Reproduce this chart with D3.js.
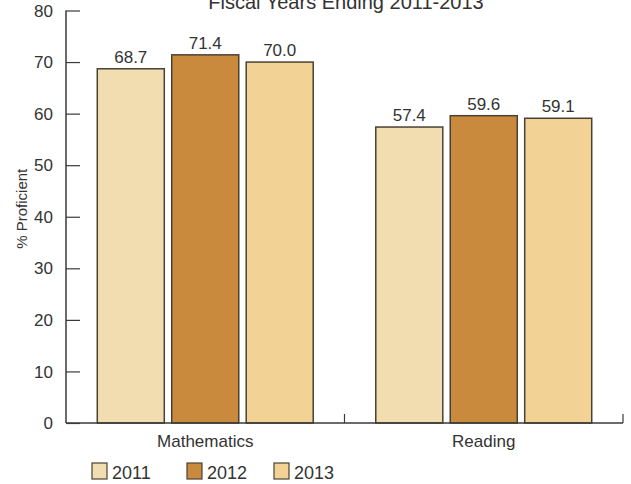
<!DOCTYPE html>
<html>
<head>
<meta charset="utf-8">
<script src="https://cdn.jsdelivr.net/npm/d3@7"></script>
<style>
  html, body { margin: 0; padding: 0; background: #ffffff; }
  svg { display: block; font-family: "Liberation Sans", Arial, sans-serif; }
</style>
</head>
<body>
<svg id="chart" width="631" height="484"></svg>
<script>
const categories = ["Mathematics", "Reading"];
const years = ["2011", "2012", "2013"];
const values2011 = [68.7, 57.4];
const values2012 = [71.4, 59.6];
const values2013 = [70.0, 59.1];
const yTicks = [0, 10, 20, 30, 40, 50, 60, 70, 80];
const title = "Fiscal Years Ending 2011-2013";
const yLabel = "% Proficient";
const colors = ["#f1ddb0", "#c98a3d", "#f2d395"];

const seriesValues = [values2011, values2012, values2013];
const svg = d3.select("#chart");
const textColor = "#333333";
const axisColor = "#3a3a3a";

const mLeft = 66, mRight = 623, mTop = 10.5, mBottom = 423;

const y = d3.scaleLinear().domain([0, 80]).range([mBottom, mTop]);
const x0 = d3.scaleBand().domain(categories).range([mLeft, mRight]).padding(0);
const x1 = d3.scaleBand().domain(years).range([0, x0.bandwidth()])
  .paddingInner(0.1).paddingOuter(0.42);

// Title (cut off at the top edge, as in the reference)
svg.append("text")
  .attr("x", 346).attr("y", 9)
  .attr("text-anchor", "middle")
  .attr("font-size", 20)
  .attr("fill", textColor)
  .text(title);

// Y axis
const yAxis = d3.axisRight(y).tickValues(yTicks).tickSize(14).tickFormat("");
const gy = svg.append("g").attr("transform", `translate(${mLeft},0)`).call(yAxis);
gy.select(".domain").remove();
gy.selectAll(".tick line").attr("stroke", axisColor).attr("stroke-width", 1.2);
svg.append("line")
  .attr("x1", mLeft).attr("x2", mLeft).attr("y1", y(80)).attr("y2", y(0))
  .attr("stroke", axisColor).attr("stroke-width", 1.5);

svg.append("g").selectAll("text").data(yTicks).join("text")
  .attr("x", 53).attr("y", d => y(d))
  .attr("dy", "0.36em")
  .attr("text-anchor", "end")
  .attr("font-size", 17)
  .attr("fill", textColor)
  .text(d => d);

svg.append("text")
  .attr("transform", `translate(27,${(y(0) + y(80)) / 2 - 8}) rotate(-90)`)
  .attr("text-anchor", "middle")
  .attr("font-size", 15)
  .attr("fill", textColor)
  .text(yLabel);

// Bars
const groups = svg.append("g").selectAll("g").data(categories).join("g")
  .attr("transform", d => `translate(${x0(d)},0)`);

groups.selectAll("rect")
  .data((c, ci) => years.map((yr, si) => ({ yr, si, v: seriesValues[si][ci] })))
  .join("rect")
  .attr("x", d => x1(d.yr))
  .attr("y", d => y(d.v))
  .attr("width", x1.bandwidth())
  .attr("height", d => y(0) - y(d.v))
  .attr("fill", d => colors[d.si])
  .attr("stroke", "#4a4135")
  .attr("stroke-width", 1.5);

groups.selectAll("text.val")
  .data((c, ci) => years.map((yr, si) => ({ yr, si, v: seriesValues[si][ci] })))
  .join("text")
  .attr("class", "val")
  .attr("x", d => x1(d.yr) + x1.bandwidth() / 2)
  .attr("y", d => y(d.v) - 6)
  .attr("text-anchor", "middle")
  .attr("font-size", 17)
  .attr("fill", textColor)
  .text(d => d.v.toFixed(1));

// X axis
svg.append("line")
  .attr("x1", mLeft).attr("x2", mRight).attr("y1", mBottom).attr("y2", mBottom)
  .attr("stroke", axisColor).attr("stroke-width", 1.5);
const boundaries = categories.map(c => x0(c) + x0.bandwidth());
svg.append("g").selectAll("line").data(boundaries).join("line")
  .attr("x1", d => d).attr("x2", d => d)
  .attr("y1", mBottom).attr("y2", mBottom - 9)
  .attr("stroke", axisColor).attr("stroke-width", 1.2);

svg.append("g").selectAll("text").data(categories).join("text")
  .attr("x", d => x0(d) + x1(years[1]) + x1.bandwidth() / 2)
  .attr("y", 447)
  .attr("text-anchor", "middle")
  .attr("font-size", 17)
  .attr("fill", textColor)
  .text(d => d);

// Legend
const legendX = [92, 187, 274];
const lg = svg.append("g").selectAll("g").data(years).join("g")
  .attr("transform", (d, i) => `translate(${legendX[i]},463)`);
lg.append("rect")
  .attr("width", 15).attr("height", 16)
  .attr("fill", (d, i) => colors[i])
  .attr("stroke", "#4a4135").attr("stroke-width", 1.2);
lg.append("text")
  .attr("x", 20).attr("y", 16)
  .attr("font-size", 18)
  .attr("fill", textColor)
  .text(d => d);
</script>
</body>
</html>
